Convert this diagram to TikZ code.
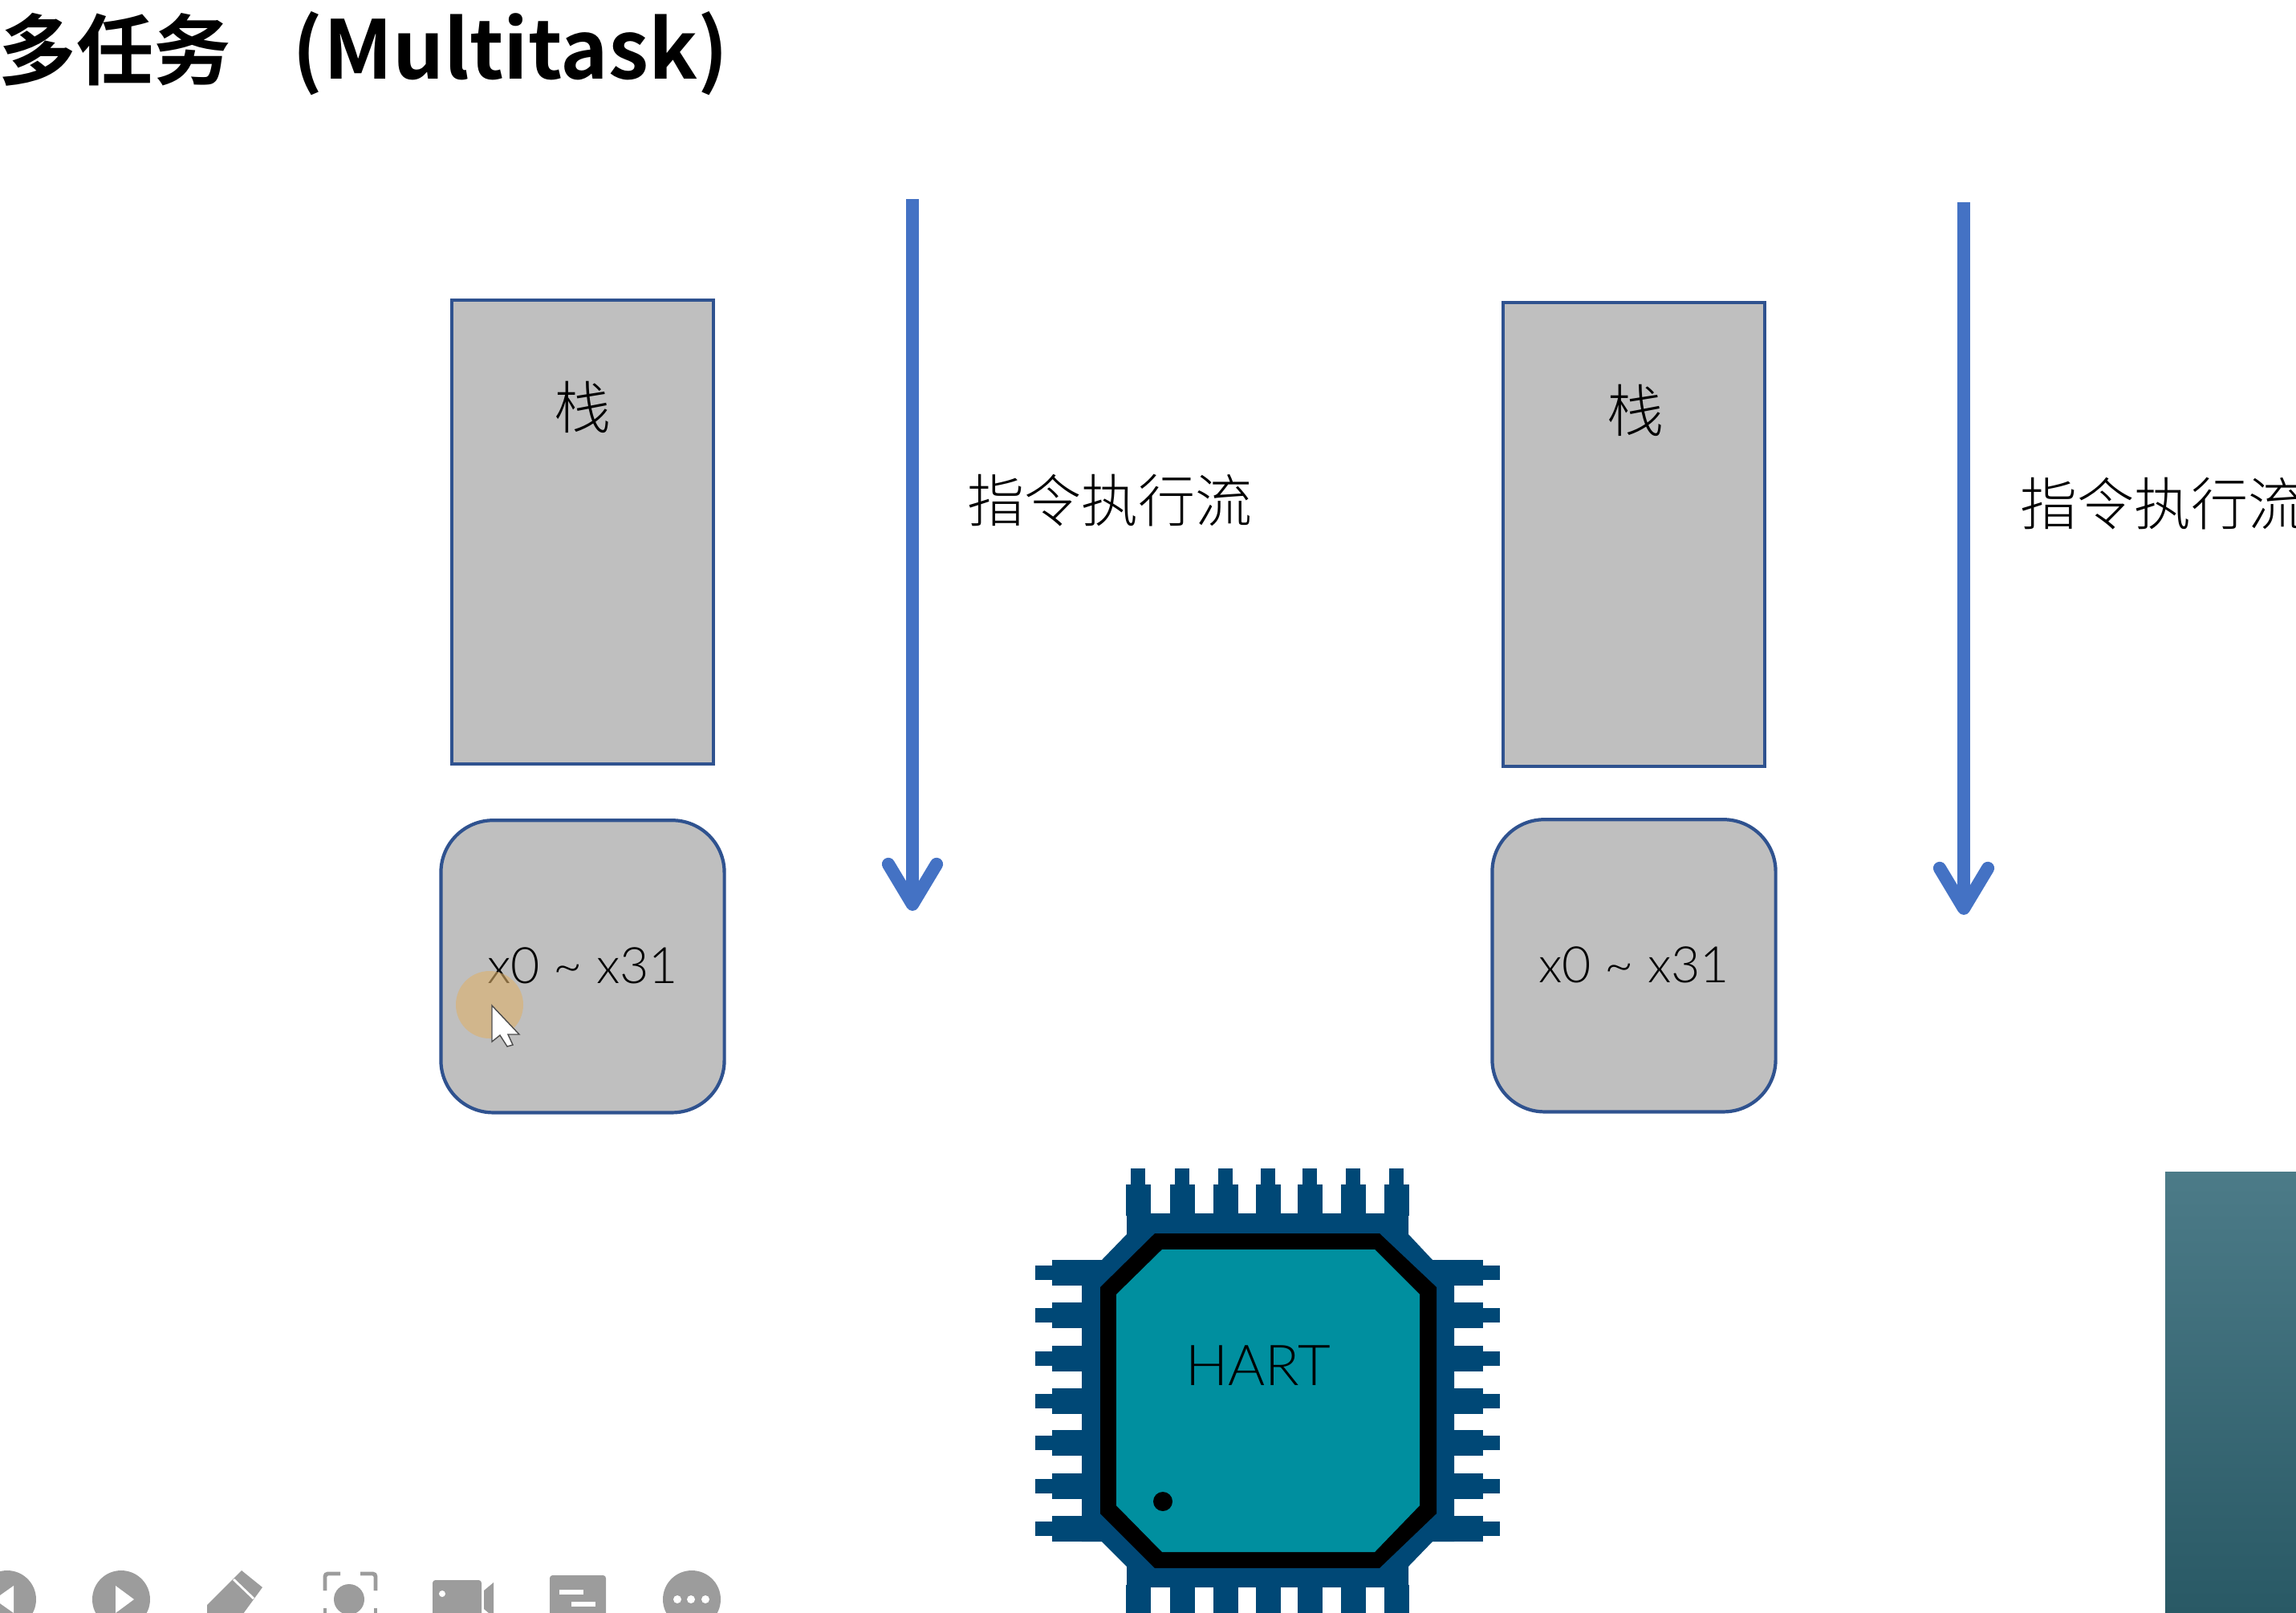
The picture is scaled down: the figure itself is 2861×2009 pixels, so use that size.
\documentclass[tikz,border=0pt]{standalone}
\usepackage{fontspec}
\setmainfont[UprightFont=* Light]{Lato}
\newfontfamily\cjk[UprightFont=* Light,BoldFont=* Bold]{Noto Sans CJK SC}
\usepackage{xcolor}
\usetikzlibrary{arrows.meta,positioning,calc}
\definecolor{boxgray}{HTML}{BFBFBF}
\definecolor{boxline}{HTML}{2F528F}
\definecolor{flowblue}{HTML}{4472C4}
\definecolor{chipteal}{HTML}{008F9F}
\definecolor{chipblue}{HTML}{004876}
\definecolor{icongray}{HTML}{9C9C9C}
\definecolor{paneltop}{HTML}{4C7B88}
\definecolor{panelmid}{HTML}{447582}
\definecolor{panelbot}{HTML}{295965}
\definecolor{pointerspot}{HTML}{DDB06A}

\begin{document}
\begin{tikzpicture}[
  x=0.01cm, y=-0.01cm,
  stackbox/.style={draw=boxline, fill=boxgray, line width=1.2pt, minimum width=3.26cm, minimum height=5.78cm, outer sep=0pt},
  regbox/.style={draw=boxline, fill=boxgray, line width=1.2pt, rounded corners=0.65cm, minimum width=3.53cm, minimum height=3.64cm, outer sep=0pt, inner sep=0pt, font=\fontsize{17.8pt}{24pt}\selectfont},
  cjklabel/.style={font=\cjk\fontsize{20.2pt}{24pt}\selectfont, inner sep=0pt},
  flow/.style={-{Straight Barb[length=0.5cm, width=0.6cm, round]}, flowblue, line width=4.6pt},
  icon/.style={fill=icongray, draw=none},
  cut/.style={fill=white, draw=none}
]
  \clip (0,0) rectangle (2861,2009);

  \node[anchor=base west, inner sep=0pt, font=\cjk\bfseries\fontsize{27.4pt}{30pt}\selectfont] (title) at (-2,99) {多任务\hspace{0.8em}{\fontsize{28.7pt}{30pt}\selectfont (Multitask)}};

  % first task
  \node[stackbox] (stacka) at (726,663) {};
  \node[regbox, below=0.70cm of stacka] (regsa) {\raisebox{0.03cm}{x0 \textasciitilde{} x31}};
  \node[cjklabel] (stackalabel) at (726,507) {栈};
  \coordinate (flowatop) at (1137,248);
  \coordinate (flowatip) at (1137,1135);
  \draw[flow] (flowatop) -- (flowatip);
  \node[cjklabel, anchor=west] (flowalabel) at (1205,624) {指令执行流};

  % second task
  \node[stackbox] (stackb) at (2036,666) {};
  \node[regbox, below=0.66cm of stackb] (regsb) {\raisebox{0.03cm}{x0 \textasciitilde{} x31}};
  \node[cjklabel] (stackblabel) at (2038,511) {栈};
  \coordinate (flowbtop) at (2447,252);
  \coordinate (flowbtip) at (2447,1140);
  \draw[flow] (flowbtop) -- (flowbtip);
  \node[cjklabel, anchor=west] (flowblabel) at (2517,628) {指令执行流};

  % mouse pointer
  \fill[pointerspot, opacity=0.6] (610,1252) circle (42);
  \draw[fill=white, draw=black!70, line width=0.4pt] (613,1253) -- (613,1298) -- (623,1290) -- (632,1304) -- (639,1302) -- (633,1289) -- (647,1289) -- cycle;

  % chip
  \fill[chipblue] (1404,1512) -- (1755,1512) -- (1755,1538) -- (1785,1570) -- (1812,1570) -- (1812,1921) -- (1785,1921) -- (1755,1952) -- (1755,1978) -- (1404,1978) -- (1404,1952) -- (1373,1921) -- (1348,1921) -- (1348,1570) -- (1373,1570) -- (1404,1538) -- cycle;
  \foreach \px in {1418,1473,1527,1580,1632,1686,1740} {
    \fill[chipblue] (\px-15.5,1476) rectangle (\px+15.5,1515);
    \fill[chipblue] (\px-9,1456) rectangle (\px+9,1478);
    \fill[chipblue] (\px-15.5,1975) rectangle (\px+15.5,2020);
  }
  \foreach \py in {1586,1639,1693,1746,1798,1852,1905} {
    \fill[chipblue] (1311,\py-16) rectangle (1350,\py+16);
    \fill[chipblue] (1290,\py-9) rectangle (1313,\py+9);
    \fill[chipblue] (1810,\py-16) rectangle (1848,\py+16);
    \fill[chipblue] (1846,\py-9) rectangle (1869,\py+9);
  }
  \fill[black] (1439,1537) -- (1719,1537) -- (1790,1604) -- (1790,1886) -- (1719,1954) -- (1439,1954) -- (1371,1886) -- (1371,1604) -- cycle;
  \fill[chipteal] (1448,1557) -- (1713,1557) -- (1769,1613) -- (1769,1876) -- (1713,1934) -- (1448,1934) -- (1391,1876) -- (1391,1613) -- cycle;
  \fill[black] (1449,1871) circle (12);
  \node[inner sep=0pt, font=\fontsize{20pt}{24pt}\selectfont, text=black] (hart) at (1568,1702) {HART};

  % camera panel
  \shade[top color=paneltop, middle color=panelmid, bottom color=panelbot] (2698,1460) rectangle (2861,2009);

  % player toolbar
  \fill[icon] (9,1993) circle (36);
  \fill[cut] (17,1976) -- (17,2010) -- (-7,1993) -- cycle;
  \fill[icon] (151,1993) circle (36);
  \fill[cut] (144,1976) -- (144,2010) -- (167,1993) -- cycle;
  \fill[icon] (301,1957) -- (327,1978) -- (300,2015) -- (258,2015) -- (258,2000) -- cycle;
  \draw[white, line width=0.8pt] (291,1968) -- (316,1992);
  \fill[icon] (435,1993) circle (19);
  \draw[icongray, line width=1.4pt, rounded corners=1pt] (405,1982) -- (405,1961) -- (424,1961);
  \draw[icongray, line width=1.4pt, rounded corners=1pt] (468,1982) -- (468,1961) -- (449,1961);
  \draw[icongray, line width=1.4pt] (405,2004) -- (405,2015);
  \draw[icongray, line width=1.4pt] (468,2004) -- (468,2015);
  \fill[icon, rounded corners=1pt] (539,1969) rectangle (600,2015);
  \fill[cut] (551,1986) circle (4);
  \fill[icon] (603,1982) -- (615,1972) -- (615,2015) -- (603,2005) -- cycle;
  \fill[icon, rounded corners=1pt] (685,1963) rectangle (755,2015);
  \fill[cut] (697,1981) rectangle (727,1987);
  \fill[cut] (712,1996) rectangle (742,2002);
  \fill[icon] (862,1993) circle (36);
  \foreach \dx in {844,861,879} {
    \fill[cut] (\dx,1993) circle (5);
  }
\end{tikzpicture}
\end{document}
